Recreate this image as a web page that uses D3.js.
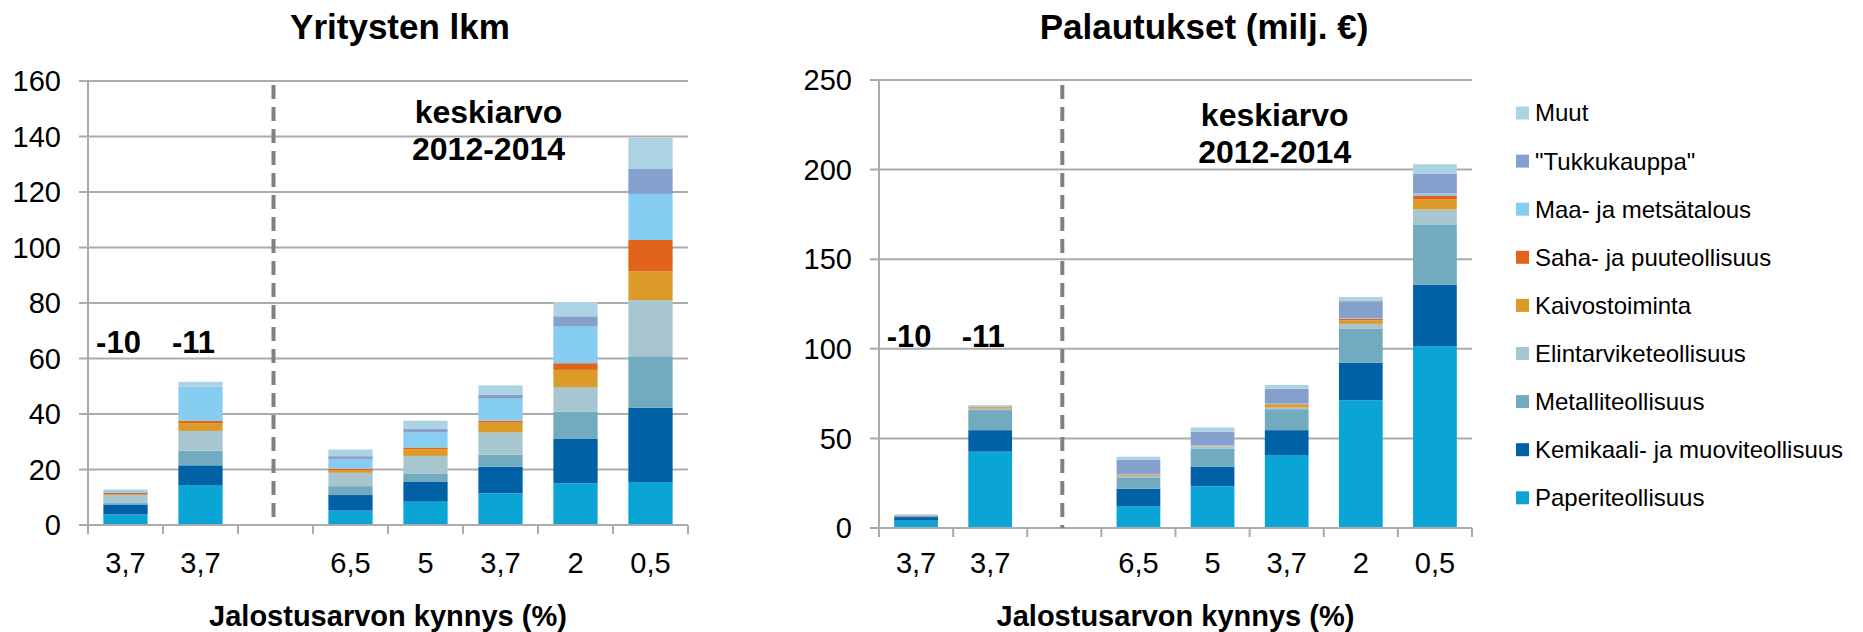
<!DOCTYPE html>
<html>
<head>
<meta charset="utf-8">
<script src="https://cdn.jsdelivr.net/npm/d3@7"></script>
<style>
  body { margin: 0; background: #fff; }
  svg { display: block; font-family: Arial, "Liberation Sans", sans-serif; }
</style>
</head>
<body>
<svg width="1863" height="632"></svg>
<script>
// x categories (index 2 is the empty gap between the yearly bars and the averages)
const tickLabels = ["3,7", "3,7", "", "6,5", "5", "3,7", "2", "0,5"];
const yearLabels = ["-10", "-11"];

const series = ["Paperiteollisuus", "Kemikaali- ja muoviteollisuus", "Metalliteollisuus",
  "Elintarviketeollisuus", "Kaivostoiminta", "Saha- ja puuteollisuus",
  "Maa- ja metsätalous", "\"Tukkukauppa\"", "Muut"];
const colors = ["#0aa5d5", "#0061a7", "#72aabf", "#a7c6d0", "#dc9a28",
  "#e0641a", "#86cdf2", "#85a0cc", "#acd3e2"];

// Yritysten lkm
const countPaperi      = [3.8, 14.4, null, 5.2, 8.4, 11.4, 15.0, 15.5];
const countKemikaali   = [3.6, 7.1, null, 5.6, 7.1, 9.6, 16.0, 26.8];
const countMetalli     = [0.5, 5.3, null, 3.2, 3.1, 4.3, 9.8, 18.5];
const countElintarvike = [2.9, 7.1, null, 4.8, 6.3, 8.1, 8.9, 20.2];
const countKaivos      = [0.2, 2.8, null, 0.9, 2.4, 3.5, 6.2, 10.4];
const countSaha        = [0.6, 0.9, null, 0.6, 0.6, 0.7, 2.4, 11.3];
const countMaa         = [0.8, 12.2, null, 3.3, 5.5, 7.9, 13.2, 16.6];
const countTukku       = [0.1, 0.0, null, 1.2, 1.3, 1.5, 3.7, 9.0];
const countMuut        = [0.3, 1.8, null, 2.4, 2.9, 3.3, 5.1, 11.2];

// Palautukset (milj. €)
const refundPaperi      = [4.1, 42.6, null, 12.0, 23.3, 40.7, 71.3, 101.5];
const refundKemikaali   = [2.0, 12.0, null, 9.9, 11.0, 13.9, 20.9, 34.2];
const refundMetalli     = [0.6, 11.2, null, 6.4, 10.1, 11.7, 18.9, 33.4];
const refundElintarvike = [0.3, 0.8, null, 0.8, 1.2, 0.9, 2.8, 8.7];
const refundKaivos      = [0.1, 0.8, null, 0.3, 0.2, 1.6, 2.0, 5.5];
const refundSaha        = [0.1, 0.1, null, 0.5, 0.1, 0.3, 0.8, 2.3];
const refundMaa         = [0.1, 0.3, null, 0.3, 0.2, 0.3, 0.3, 1.1];
const refundTukku       = [0.1, 0.2, null, 8.0, 7.6, 8.4, 9.6, 11.1];
const refundMuut        = [0.3, 0.6, null, 1.6, 2.4, 2.0, 2.3, 5.2];

const countTicks = [0, 20, 40, 60, 80, 100, 120, 140, 160];
const refundTicks = [0, 50, 100, 150, 200, 250];

const svg = d3.select("svg");
const gridColor = "#ababab";

function drawPanel(p) {
  const rows = tickLabels.map((t, i) => {
    const r = { idx: i };
    series.forEach((s, k) => r[s] = p.values[k][i] || 0);
    return r;
  });
  const stacked = d3.stack().keys(series)(rows);

  const x = d3.scaleBand()
    .domain(rows.map(d => d.idx))
    .range([p.x0, p.x1])
    .paddingInner(0.41)
    .paddingOuter(0.205);
  const y = d3.scaleLinear().domain([0, p.max]).range([p.y0, p.y1]);
  const step = x.step();

  const g = svg.append("g");

  // gridlines + y labels
  g.selectAll(".grid")
    .data(p.ticks)
    .join("line")
    .attr("x1", p.x0 - 9).attr("x2", p.x1)
    .attr("y1", d => y(d)).attr("y2", d => y(d))
    .attr("stroke", gridColor).attr("stroke-width", 2);

  g.selectAll(".ylab")
    .data(p.ticks)
    .join("text")
    .attr("x", p.x0 - p.labelGap)
    .attr("y", d => y(d))
    .attr("dy", "0.35em")
    .attr("text-anchor", "end")
    .style("font-size", "29px")
    .text(d => d);

  // y axis line
  g.append("line")
    .attr("x1", p.x0).attr("x2", p.x0)
    .attr("y1", y(p.max)).attr("y2", y(0) + 9)
    .attr("stroke", gridColor).attr("stroke-width", 2);

  // bars
  g.selectAll(".layer")
    .data(stacked)
    .join("g")
    .attr("fill", (d, i) => colors[i])
    .selectAll("rect")
    .data(d => d)
    .join("rect")
    .attr("x", d => x(d.data.idx))
    .attr("width", x.bandwidth())
    .attr("y", d => y(d[1]))
    .attr("height", d => Math.max(0, y(d[0]) - y(d[1])));

  // x axis baseline and boundary ticks
  g.append("line")
    .attr("x1", p.x0).attr("x2", p.x1)
    .attr("y1", y(0)).attr("y2", y(0))
    .attr("stroke", gridColor).attr("stroke-width", 2);
  g.selectAll(".xtick")
    .data(d3.range(tickLabels.length + 1))
    .join("line")
    .attr("x1", i => p.x0 + i * step).attr("x2", i => p.x0 + i * step)
    .attr("y1", y(0)).attr("y2", y(0) + 9)
    .attr("stroke", gridColor).attr("stroke-width", 2);

  g.selectAll(".xlab")
    .data(rows)
    .join("text")
    .attr("x", d => x(d.idx) + x.bandwidth() / 2)
    .attr("y", 573)
    .attr("text-anchor", "middle")
    .style("font-size", "29px")
    .text(d => tickLabels[d.idx]);

  // dashed separator in the empty slot
  const gx = x(2) + x.bandwidth() / 2 - 2;
  g.append("line")
    .attr("x1", gx).attr("x2", gx)
    .attr("y1", 85).attr("y2", y(0))
    .attr("stroke", "#808080").attr("stroke-width", 4)
    .attr("stroke-dasharray", "14,8");

  // year labels above first two bars
  g.selectAll(".year")
    .data(yearLabels)
    .join("text")
    .attr("x", (d, i) => x(i) + x.bandwidth() / 2 - 7)
    .attr("y", p.yearY)
    .attr("text-anchor", "middle")
    .style("font-size", "31px").style("font-weight", "bold")
    .text(d => d);

  const ax = x(5) + x.bandwidth() / 2 - 12;
  g.append("text").attr("x", ax).attr("y", p.noteY)
    .attr("text-anchor", "middle")
    .style("font-size", "32px").style("font-weight", "bold")
    .text("keskiarvo");
  g.append("text").attr("x", ax).attr("y", p.noteY + 37)
    .attr("text-anchor", "middle")
    .style("font-size", "32px").style("font-weight", "bold")
    .text("2012-2014");

  // titles
  g.append("text").attr("x", p.titleX).attr("y", 39)
    .attr("text-anchor", "middle")
    .style("font-size", "35px").style("font-weight", "bold")
    .text(p.title);
  g.append("text").attr("x", (p.x0 + p.x1) / 2).attr("y", 626)
    .attr("text-anchor", "middle")
    .style("font-size", "29px").style("font-weight", "bold")
    .text("Jalostusarvon kynnys (%)");
}

drawPanel({
  title: "Yritysten lkm", titleX: 400,
  x0: 88, x1: 688, y0: 525, y1: 81, max: 160, ticks: countTicks, labelGap: 27,
  yearY: 353, noteY: 123,
  values: [countPaperi, countKemikaali, countMetalli, countElintarvike, countKaivos,
    countSaha, countMaa, countTukku, countMuut]
});

drawPanel({
  title: "Palautukset (milj. €)", titleX: 1204,
  x0: 879, x1: 1472, y0: 528, y1: 80, max: 250, ticks: refundTicks, labelGap: 27,
  yearY: 347, noteY: 126,
  values: [refundPaperi, refundKemikaali, refundMetalli, refundElintarvike, refundKaivos,
    refundSaha, refundMaa, refundTukku, refundMuut]
});

// legend, top to bottom = reverse stacking order
const legendOrder = series.map((s, i) => i).reverse();
const legend = svg.append("g")
  .selectAll("g")
  .data(legendOrder)
  .join("g")
  .attr("transform", (d, j) => `translate(1516, ${113 + j * 48.1})`);
legend.append("rect")
  .attr("x", 0).attr("y", -6.5).attr("width", 13).attr("height", 13)
  .attr("fill", d => colors[d]);
legend.append("text")
  .attr("x", 19).attr("dy", "0.35em")
  .style("font-size", "24px")
  .text(d => series[d]);
</script>
</body>
</html>
